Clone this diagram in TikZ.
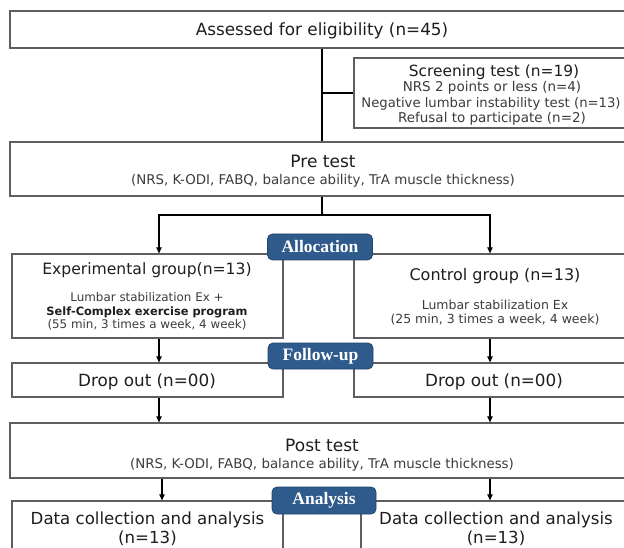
\documentclass[tikz,border=0pt]{standalone}
\usepackage{fontspec}
\setmainfont{DejaVu Sans}
\newfontfamily\labelfont{Liberation Serif}
\usetikzlibrary{arrows.meta}
\definecolor{boxgray}{HTML}{5E5E5E}
\definecolor{txtdark}{HTML}{1E1E1E}
\definecolor{txtgray}{HTML}{3C3C3C}
\definecolor{labfill}{HTML}{2F5A8C}
\definecolor{labdraw}{HTML}{23466E}
\newcommand\fs[1]{\fontsize{#1}{#1}\selectfont}
\begin{document}
\begin{tikzpicture}[x=1pt,y=-1pt,
  box/.style={draw=boxgray,line width=1.3pt,fill=white,inner sep=0pt},
  txt/.style={anchor=base,inner sep=0pt,text=txtdark,font=\fs{16}},
  sub/.style={anchor=base,inner sep=0pt,text=txtgray,font=\fs{13.4}},
  lab/.style={draw=labdraw,line width=0.8pt,fill=labfill,rounded corners=5pt,inner sep=0pt,
    text=white,font=\labelfont\bfseries\fs{17.5},
    minimum width=105pt,minimum height=26pt},
  conn/.style={draw=black,line width=1.1pt},
  arr/.style={conn,-{Triangle[width=5.5pt,length=6pt]}}]
\useasboundingbox (0,0) rectangle (624,548);
\fill[white] (0,0) rectangle (624,548);
\clip (0,0) rectangle (624,548);

% boxes
\node[box,minimum width=624pt,minimum height=37pt] (top) at (322,29.5) {};
\node[box,minimum width=278pt,minimum height=70pt] (screen) at (493,93) {};
\node[box,minimum width=624pt,minimum height=54pt] (pre) at (322,169) {};
\node[box,minimum width=271pt,minimum height=84pt] (exp) at (147.5,296) {};
\node[box,minimum width=282pt,minimum height=84pt] (ctrl) at (495,296) {};
\node[box,minimum width=271pt,minimum height=34pt] (dropL) at (147.5,380) {};
\node[box,minimum width=282pt,minimum height=34pt] (dropR) at (495,380) {};
\node[box,minimum width=624pt,minimum height=55pt] (post) at (322,450.5) {};
\node[box,minimum width=271pt,minimum height=60pt] (dataL) at (147.5,531) {};
\node[box,minimum width=276pt,minimum height=60pt] (dataR) at (499,531) {};

% texts
\node[txt,font=\fs{16.8}] (topT) at (322,35.5) {Assessed for eligibility (n=45)};
\node[txt,font=\fs{15.4}] (scrT) at (494,76.5) {Screening test (n=19)};
\node[sub,font=\fs{13.5}] (scr1) at (492,92) {NRS 2 points or less (n=4)};
\node[sub,font=\fs{13.2}] (scr2) at (491,108) {Negative lumbar instability test (n=13)};
\node[sub,font=\fs{13.5}] (scr3) at (492,123) {Refusal to participate (n=2)};
\node[txt,font=\fs{17}] (preT) at (323,168) {Pre test};
\node[sub] (preS) at (323,185) {(NRS, K-ODI, FABQ, balance ability, TrA muscle thickness)};
\node[txt,font=\fs{15.6}] (expT) at (147,274.5) {Experimental group(n=13)};
\node[sub,font=\fs{11.9}] (expS1) at (147,301.5) {Lumbar stabilization Ex +};
\node[sub,font=\fs{11.4}\bfseries,text=txtdark] (expS2) at (147,315.5) {Self-Complex exercise program};
\node[sub,font=\fs{11.9}] (expS3) at (147,328) {(55 min, 3 times a week, 4 week)};
\node[txt] (ctrlT) at (495,280.5) {Control group (n=13)};
\node[sub,font=\fs{12.5}] (ctrlS1) at (495,309.5) {Lumbar stabilization Ex};
\node[sub,font=\fs{12.5}] (ctrlS2) at (495,323.5) {(25 min, 3 times a week, 4 week)};
\node[txt,font=\fs{16.8}] (dropLT) at (147,386) {Drop out (n=00)};
\node[txt,font=\fs{16.8}] (dropRT) at (494,386) {Drop out (n=00)};
\node[txt,font=\fs{17}] (postT) at (322,451) {Post test};
\node[sub] (postS) at (322,468) {(NRS, K-ODI, FABQ, balance ability, TrA muscle thickness)};
\node[txt,font=\fs{16.6}] (dataLT) at (147.5,524) {Data collection and analysis};
\node[txt,font=\fs{16.6}] (dataLN) at (147.5,543) {(n=13)};
\node[txt,font=\fs{16.6}] (dataRT) at (496,524) {Data collection and analysis};
\node[txt,font=\fs{16.6}] (dataRN) at (496,543) {(n=13)};

% connectors
\coordinate (xl) at (159,0);
\coordinate (xr) at (490,0);
\coordinate (xl2) at (162,0);
\coordinate (split) at (322,215);
\draw[conn] (top.south) -- (pre.north);
\draw[conn] (top.south |- screen.west) -- (screen.west);
\draw[conn] (pre.south) -- (split);
\draw[arr] (split) -| (xl |- exp.north);
\draw[arr] (split) -| (xr |- ctrl.north);
\draw[arr] (xl |- exp.south) -- (xl |- dropL.north);
\draw[arr] (xr |- ctrl.south) -- (xr |- dropR.north);
\draw[arr] (xl |- dropL.south) -- (xl |- post.north);
\draw[arr] (xr |- dropR.south) -- (xr |- post.north);
\draw[arr] (xl2 |- post.south) -- (xl2 |- dataL.north);
\draw[arr] (xr |- post.south) -- (xr |- dataR.north);

% stage labels
\node[lab] (alloc) at (320,247) {Allocation};
\node[lab] (follow) at (320.5,356) {Follow-up};
\node[lab,minimum width=104pt,minimum height=27pt] (anal) at (324,500.5) {Analysis};
\end{tikzpicture}
\end{document}
